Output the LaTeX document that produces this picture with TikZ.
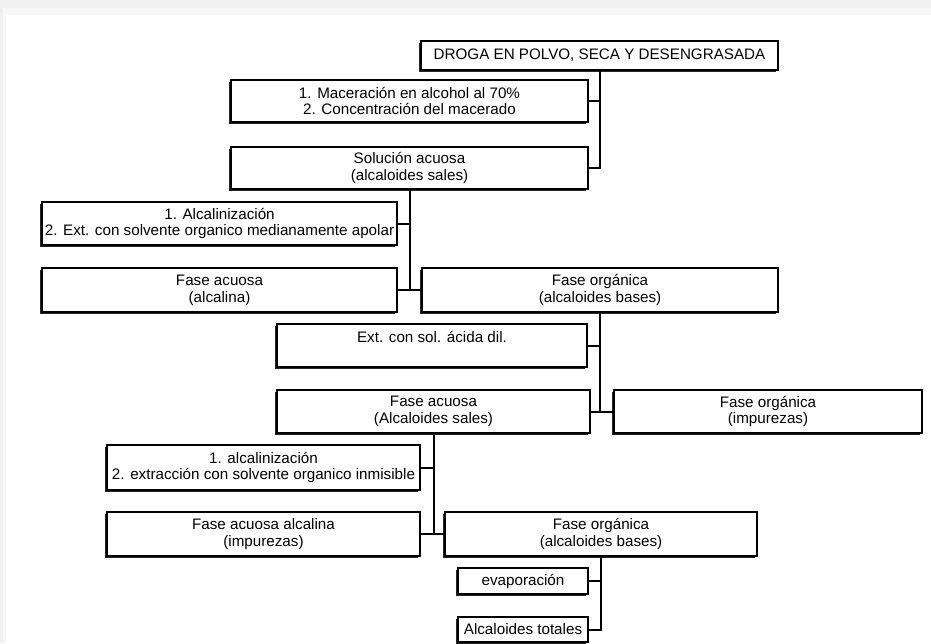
\documentclass[tikz,border=0pt]{standalone}
\usepackage{fontspec}
\setmainfont{Liberation Sans}
\usetikzlibrary{shadows, positioning, calc}

\begin{document}
\begin{tikzpicture}[x=0.5pt, y=-0.5pt,
  caja/.style={draw, fill=white, line width=0.7pt, inner sep=0pt, align=center,
    font=\fontsize{7.6}{8.4}\selectfont,
    drop shadow={shadow xshift=-0.8pt, shadow yshift=-0.8pt, fill=black!85, opacity=1}},
  linea/.style={line width=1pt}]
% --- FONDO (MARCO DE LA CAPTURA) ---
\useasboundingbox (0,0) rectangle (931,643);
\fill[gray!12] (0,0) rectangle (931,643);
\fill[gray!6] (3,8) rectangle (931,643);
\fill[white] (6,15) rectangle (931,643);

% NIVEL 1: Droga y extracción alcohólica
\node[caja, minimum width=178.5pt, minimum height=14.5pt] (droga) at (599.5,55.5) {DROGA EN POLVO, SECA Y DESENGRASADA};
\node[caja, minimum width=178.5pt, minimum height=21pt] (macer) at (409.5,101) {1. Maceración en alcohol al 70\%\\2. Concentración del macerado};
\node[caja, minimum width=178.5pt, minimum height=21pt] (solac) at (409.5,168) {Solución acuosa\\(alcaloides sales)};

% NIVEL 2: Alcalinización y primera partición
\node[caja, minimum width=177.5pt, minimum height=21.5pt] (alcal1) at (219.5,223.5) {1. Alcalinización\\2. Ext. con solvente organico medianamente apolar};
\node[caja, minimum width=177.5pt, minimum height=22pt] (facalina) at (219.5,290) {Fase acuosa\\(alcalina)};
\node[caja, minimum width=178pt, minimum height=22pt] (forg1) at (600,290) {Fase orgánica\\(alcaloides bases)};

% NIVEL 3: Extracción ácida
\node[caja, minimum width=155pt, minimum height=21.5pt] (extac) at (432,345.5) {Ext. con sol. ácida dil.\\\mbox{}};
\node[caja, minimum width=156.5pt, minimum height=21.5pt] (facsal) at (433.5,411.5) {Fase acuosa\\(Alcaloides sales)};
\node[caja, minimum width=154pt, minimum height=21.5pt] (forgimp) at (768,411.5) {Fase orgánica\\(impurezas)};

% NIVEL 4: Segunda alcalinización
\node[caja, minimum width=156.5pt, minimum height=22.5pt] (alcal2) at (263.5,467.5) {1. alcalinización\\2. extracción con solvente organico inmisible};
\node[caja, minimum width=156.5pt, minimum height=22pt] (faaimp) at (263.5,534) {Fase acuosa alcalina\\(impurezas)};
\node[caja, minimum width=156pt, minimum height=22pt] (forg2) at (601,534) {Fase orgánica\\(alcaloides bases)};

% NIVEL 5: Producto final
\node[caja, minimum width=65pt, minimum height=13pt] (evap) at (523,581) {evaporación};
\node[caja, minimum width=65pt, minimum height=12.5pt] (totales) at (523,629.5) {Alcaloides totales};

% CONECTORES
\draw[linea] (droga.south) |- (solac.east);
\draw[linea] (macer.east) -- (macer.east -| droga.south);
\draw[linea] (solac.south) -- (solac.south |- facalina.east);
\draw[linea] (alcal1.east) -- (alcal1.east -| solac.south);
\draw[linea] (facalina.east) -- (forg1.west);
\draw[linea] (forg1.south) -- (forg1.south |- facsal.east);
\draw[linea] (extac.east) -- (extac.east -| forg1.south);
\draw[linea] (facsal.east) -- (forgimp.west);
\draw[linea] (facsal.south) -- (facsal.south |- faaimp.east);
\draw[linea] (alcal2.east) -- (alcal2.east -| facsal.south);
\draw[linea] (faaimp.east) -- (forg2.west);
\draw[linea] (forg2.south) |- (totales.east);
\draw[linea] (evap.east) -- (evap.east -| forg2.south);
\end{tikzpicture}
\end{document}
